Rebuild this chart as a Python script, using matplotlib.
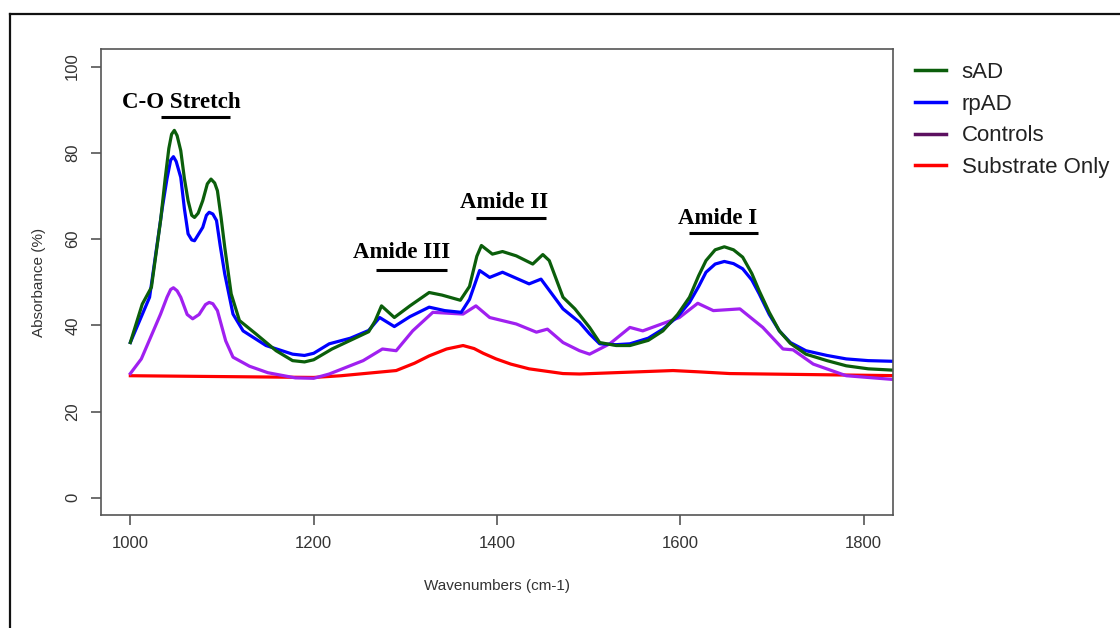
import matplotlib
matplotlib.use('Agg')
import matplotlib.pyplot as plt
from matplotlib.lines import Line2D

# spectra (wavenumber, absorbance %)
wn_sad = [1000, 1013, 1023, 1033, 1038, 1042, 1045, 1048, 1051, 1055, 1059, 1063,
          1067, 1070, 1074, 1079, 1084, 1088, 1092, 1095, 1099, 1103, 1110, 1119,
          1137, 1159, 1177, 1190, 1200, 1220, 1240, 1260, 1267, 1274, 1288, 1305,
          1326, 1340, 1360, 1370, 1378, 1383, 1395, 1406, 1421, 1439, 1450, 1457,
          1472, 1485, 1501, 1512, 1530, 1545, 1565, 1581, 1597, 1610, 1620, 1628,
          1638, 1648, 1658, 1668, 1678, 1686, 1697, 1708, 1720, 1737, 1760, 1781,
          1805, 1840]
sad = [36.0, 44.9, 48.8, 64.3, 74.0, 81.0, 84.3, 85.2, 84.0, 80.5, 74.0, 68.9,
       65.5, 65.0, 66.0, 68.9, 72.8, 73.9, 73.0, 71.2, 65.0, 58.1, 47.3, 41.1,
       38.0, 34.1, 31.8, 31.5, 32.0, 34.5, 36.5, 38.5, 41.0, 44.5, 41.8, 44.5,
       47.6, 47.0, 45.8, 49.0, 56.0, 58.5, 56.5, 57.1, 56.1, 54.2, 56.4, 55.0,
       46.5, 43.8, 39.5, 36.0, 35.3, 35.3, 36.5, 38.7, 42.5, 46.5, 51.5, 55.0,
       57.5, 58.2, 57.5, 55.8, 52.0, 48.0, 43.0, 38.7, 35.8, 33.3, 31.8, 30.6,
       29.9, 29.5]

wn_rpad = [1000, 1021, 1035, 1040, 1044, 1047, 1050, 1055, 1059, 1063, 1067, 1070,
           1079, 1083, 1086, 1090, 1094, 1098, 1103, 1112, 1123, 1148, 1177, 1190,
           1200, 1217, 1240, 1260, 1272, 1288, 1305, 1326, 1343, 1361, 1370, 1381,
           1392, 1406, 1435, 1448, 1472, 1490, 1501, 1512, 1530, 1545, 1565, 1581,
           1597, 1610, 1620, 1628, 1638, 1648, 1658, 1668, 1678, 1686, 1697, 1708,
           1720, 1737, 1760, 1781, 1805, 1840]
rpad = [36.0, 46.5, 67.4, 74.0, 78.3, 79.1, 78.0, 74.3, 67.0, 61.2, 59.8, 59.6,
        62.7, 65.5, 66.2, 65.8, 64.3, 58.5, 51.9, 42.6, 38.7, 35.3, 33.3, 33.0,
        33.5, 35.7, 37.0, 38.8, 41.8, 39.7, 42.0, 44.2, 43.4, 43.0, 46.0, 52.7,
        51.1, 52.3, 49.6, 50.7, 43.8, 40.7, 38.0, 35.7, 35.5, 35.7, 37.0, 39.1,
        42.0, 45.3, 49.0, 52.3, 54.2, 54.8, 54.3, 53.1, 50.5, 47.3, 42.5, 38.7,
        36.0, 34.1, 33.0, 32.2, 31.8, 31.6]

wn_ctrl = [1000, 1012, 1033, 1040, 1044, 1047, 1051, 1055, 1062, 1068, 1075, 1082,
           1086, 1090, 1095, 1104, 1112, 1130, 1150, 1180, 1200, 1217, 1254, 1275,
           1290, 1308, 1330, 1363, 1377, 1392, 1421, 1443, 1455, 1472, 1490, 1501,
           1523, 1545, 1559, 1599, 1619, 1636, 1665, 1690, 1712, 1723, 1745, 1781,
           1840]
ctrl = [28.8, 32.2, 42.6, 46.5, 48.3, 48.7, 48.0, 46.5, 42.5, 41.5, 42.5, 44.8,
        45.3, 45.0, 43.4, 36.4, 32.6, 30.5, 29.0, 27.8, 27.7, 28.7, 31.8, 34.5,
        34.1, 38.7, 43.0, 42.6, 44.5, 41.8, 40.3, 38.4, 39.1, 36.0, 34.1, 33.3,
        35.7, 39.5, 38.7, 41.8, 45.1, 43.4, 43.8, 39.5, 34.5, 34.3, 31.0, 28.3,
        27.3]

wn_sub = [1000, 1100, 1200, 1230, 1290, 1310, 1326, 1345, 1363, 1375, 1385, 1399,
          1415, 1435, 1472, 1490, 1592, 1620, 1654, 1840]
sub = [28.3, 28.1, 27.9, 28.3, 29.5, 31.2, 32.9, 34.5, 35.3, 34.6, 33.5, 32.2,
       31.0, 29.9, 28.8, 28.7, 29.5, 29.2, 28.8, 28.3]

labels = ['sAD', 'rpAD', 'Controls', 'Substrate Only']
line_colors = ['#0b5e0b', '#0000ff', '#a020f0', '#ff0000']
legend_colors = ['#0b5e0b', '#0000ff', '#5c1060', '#ff0000']

# band annotations: (label, text x, text y, bar start, bar end, bar y)
bands = [('C-O Stretch', 1056, 90.4, 1033, 1109, 88.3),
         ('Amide III', 1296, 55.7, 1268, 1345, 52.9),
         ('Amide II', 1408, 67.3, 1377, 1453, 64.9),
         ('Amide I', 1641, 63.6, 1609, 1685, 61.4)]

fig = plt.figure(figsize=(11.2, 6.28), dpi=100)
ax = fig.add_axes([101 / 1120, 1 - 515 / 628, 792 / 1120, 465.7 / 628])

series = [(wn_sad, sad), (wn_rpad, rpad), (wn_ctrl, ctrl), (wn_sub, sub)]
for (x, y), c in zip(series[::-1], line_colors[::-1]):
    ax.plot(x, y, color=c, lw=2.3, solid_joinstyle='round')

ax.set_xlim(968, 1832)
ax.set_ylim(-4, 104)
ax.set_xticks([1000, 1200, 1400, 1600, 1800])
ax.set_yticks([0, 20, 40, 60, 80, 100])

axis_col = '#555555'
for s in ax.spines.values():
    s.set_color(axis_col)
    s.set_linewidth(1.2)
ax.tick_params(direction='out', length=7, width=1.2, color=axis_col,
               labelsize=12, labelcolor='#333333', pad=8)
for t in ax.get_xticklabels() + ax.get_yticklabels():
    t.set_family('Liberation Sans')
for t in ax.get_yticklabels():
    t.set_rotation(90)
    t.set_va('center')

ax.set_xlabel('Wavenumbers (cm-1)', family='Liberation Sans', fontsize=11,
              color='#333333', labelpad=20)
ax.set_ylabel('Absorbance (%)', family='Liberation Sans', fontsize=11,
              color='#333333', labelpad=14)

for name, tx, ty, x0, x1, by in bands:
    ax.text(tx, ty, name, ha='center', va='baseline', family='Liberation Serif',
            fontweight='bold', fontsize=16.5, color='black')
    ax.plot([x0, x1], [by, by], color='black', lw=2.2, solid_capstyle='butt')

handles = [Line2D([], [], color=c, lw=2.5) for c in legend_colors]
fig.legend(handles, labels, loc='upper left',
           bbox_to_anchor=(915 / 1120, 1 - 62 / 628), frameon=False,
           prop={'family': 'Liberation Sans', 'size': 16},
           handlelength=1.4, handletextpad=0.7, labelspacing=0.48,
           borderpad=0, borderaxespad=0, labelcolor='#222222')

# outer frame around the figure (continues past the right and bottom edge)
fx = 10 / 1120
fy = 1 - 14 / 628
fig.add_artist(Line2D([fx, fx], [0, fy], color='#111111', lw=1.6))
fig.add_artist(Line2D([fx, 1], [fy, fy], color='#111111', lw=1.6))

fig.savefig('out.png', dpi=100)
